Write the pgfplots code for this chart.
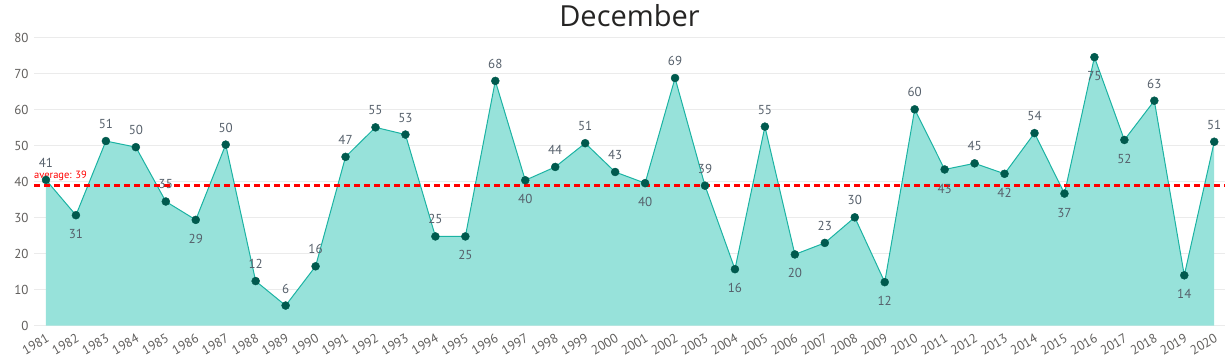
\documentclass[border=0pt]{standalone}
\usepackage{fontspec}
\setmainfont{PT Sans}
\newfontfamily\titlefont{Open Sans}
\usepackage{pgfplots}
\pgfplotsset{compat=1.18}
\usepackage{pgfplotstable}
\definecolor{fillc}{HTML}{97E2DA}
\definecolor{linec}{HTML}{1BB3A3}
\definecolor{markc}{HTML}{005A4E}
\definecolor{gridc}{HTML}{EBEBEB}
\definecolor{tickc}{HTML}{605E5C}
\definecolor{labc}{HTML}{56606B}
\definecolor{titlec}{HTML}{252423}
\pgfplotstableread{
year val
1981 40.5
1982 30.7
1983 51.3
1984 49.6
1985 34.5
1986 29.4
1987 50.3
1988 12.4
1989 5.6
1990 16.5
1991 46.9
1992 55.1
1993 53.1
1994 24.8
1995 24.8
1996 68.0
1997 40.4
1998 44.1
1999 50.7
2000 42.7
2001 39.6
2002 68.8
2003 38.9
2004 15.7
2005 55.3
2006 19.8
2007 23.0
2008 30.1
2009 12.1
2010 60.1
2011 43.4
2012 45.1
2013 42.2
2014 53.5
2015 36.7
2016 74.6
2017 51.6
2018 62.5
2019 14.0
2020 51.1
}\data
\begin{document}
\begin{tikzpicture}
\useasboundingbox (-34pt,-36.3pt) rectangle (1191pt,325.7pt);
\begin{axis}[
  at={(0,0)}, anchor=south west,
  scale only axis, width=1191pt, height=288pt,
  xmin=1980.6, xmax=2020.36, ymin=0, ymax=80,
  axis line style={draw=none},
  major tick length=0pt,
  ymajorgrids, grid style={color=gridc, line width=1pt},
  xtick={1981,1982,...,2020}, ytick={0,10,...,80},
  /pgf/number format/assume math mode=true,
  /pgf/number format/1000 sep={},
  tick label style={font=\fontsize{13}{13}\selectfont, text=tickc},
  xticklabel style={rotate=30, anchor=north east, xshift=-4pt, yshift=-6pt, inner sep=0pt},
  yticklabel style={anchor=east, xshift=-2pt},
  clip=false,
  labstyle/.style={draw=none, mark=none, nodes near coords, point meta=explicit symbolic,
    every node near coord/.append style={anchor=center, yshift=#1, font=\fontsize{13}{13}\selectfont, text=labc}},
]
\addplot[fill=fillc, draw=none] table[x=year,y=val] {\data} \closedcycle;
\addplot[color=linec, line width=1pt, mark=none] table[x=year,y=val] {\data};
\addplot[color=red, line width=3pt, dash pattern=on 6pt off 4pt, mark=none] coordinates {(1980.6,39) (2020.36,39)};
\addplot[only marks, mark=*, mark size=4pt, color=markc] table[x=year,y=val] {\data};
% labels above points
\addplot[labstyle=17pt] coordinates {
(1981,40.5)[41] (1983,51.3)[51] (1984,49.6)[50] (1985,34.5)[35] (1987,50.3)[50]
(1988,12.4)[12] (1989,5.6)[6] (1990,16.5)[16] (1991,46.9)[47] (1992,55.1)[55]
(1993,53.1)[53] (1994,24.8)[25] (1996,68.0)[68] (1998,44.1)[44] (1999,50.7)[51]
(2000,42.7)[43] (2002,68.8)[69] (2003,38.9)[39] (2005,55.3)[55] (2007,23.0)[23]
(2008,30.1)[30] (2010,60.1)[60] (2012,45.1)[45] (2014,53.5)[54] (2018,62.5)[63]
(2020,51.1)[51]};
% labels below points
\addplot[labstyle=-19pt] coordinates {
(1982,30.7)[31] (1986,29.4)[29] (1995,24.8)[25] (1997,40.4)[40] (2001,39.6)[40]
(2004,15.7)[16] (2006,19.8)[20] (2009,12.1)[12] (2011,43.4)[43] (2013,42.2)[42]
(2015,36.7)[37] (2016,74.6)[75] (2017,51.6)[52] (2019,14.0)[14]};
\node[anchor=base west, inner sep=0pt, text=red, font=\fontsize{10.5}{10.5}\selectfont] at (axis cs:1980.6,39) [yshift=6.5pt] {average: 39};
\node[anchor=base, inner sep=0pt, text=titlec, font=\titlefont\fontsize{29}{29}\selectfont] at (rel axis cs:0.5,1) [yshift=11.7pt] {December};
\end{axis}
\end{tikzpicture}
\end{document}
